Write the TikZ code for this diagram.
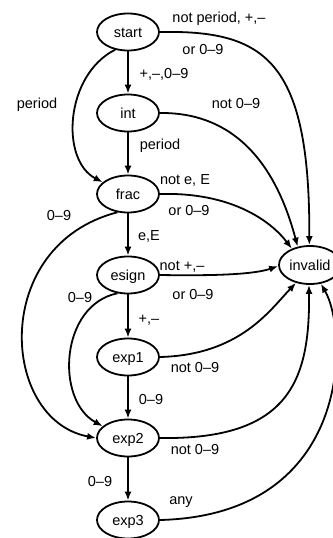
\documentclass[tikz,border=0pt]{standalone}
\usepackage{fontspec}
\setmainfont{Liberation Sans}
\usetikzlibrary{shapes.geometric,arrows.meta}
\begin{document}
\begin{tikzpicture}[x=1pt,y=-1pt,
  state/.style={ellipse, draw, line width=1.8pt, minimum width=62pt, minimum height=37pt,
    inner sep=0pt, text height=10pt, text depth=0pt, font=\fontsize{14.5}{17}\selectfont},
  lbl/.style={inner sep=0pt, text height=10pt, text depth=0pt, font=\fontsize{14.5}{17}\selectfont},
  edge/.style={line width=1.8pt, -{Latex[length=9pt,width=7pt]}}]
\useasboundingbox (0,0) rectangle (332,538);
% states
\node[state] (start) at (128,32) {start};
\node[state] (int) at (128,113) {int};
\node[state] (frac) at (128,194) {frac};
\node[state] (esign) at (128,275) {esign};
\node[state] (exp1) at (128,357) {exp1};
\node[state] (exp2) at (128,438) {exp2};
\node[state] (exp3) at (128,520) {exp3};
\node[state, minimum width=62pt, minimum height=38pt] (invalid) at (310,265) {invalid};
% straight transitions
\draw[edge] (start) -- (int);
\draw[edge] (int) -- (frac);
\draw[edge] (frac) -- (esign);
\draw[edge] (esign) -- (exp1);
\draw[edge] (exp1) -- (exp2);
\draw[edge] (exp2) -- (exp3);
% left curves
\draw[edge] (start.234) .. controls (65,75) and (60,160) .. (frac.155);
\draw[edge] (frac.240) .. controls (-10,245) and (0,420) .. (exp2.west);
\draw[edge] (esign.240) .. controls (60,305) and (55,400) .. (exp2.155);
% to invalid
\draw[edge] (start.east) .. controls (265,30) and (310,60) .. (invalid.92);
\draw[edge] (int.east) .. controls (245,112) and (280,180) .. (invalid.124);
\draw[edge] (frac.east) .. controls (230,192) and (270,220) .. (invalid.138);
\draw[edge] (esign.east) .. controls (220,276) and (255,274) .. (invalid.182);
\draw[edge] (exp1.east) .. controls (240,355) and (270,310) .. (invalid.232);
\draw[edge] (exp2.east) .. controls (290,440) and (310,380) .. (invalid.267);
\draw[edge] (exp3.east) .. controls (355,515) and (348,330) .. (invalid.300);
% labels
\node[lbl] (l1a) at (219,18) {not period, +,–};
\node[lbl] (l1b) at (203,49) {or 0–9};
\node[lbl] (l2) at (164,73) {+,–,0–9};
\node[lbl] (l3) at (37,103) {period};
\node[lbl] (l4) at (236,103) {not 0–9};
\node[lbl] (l5) at (160,144) {period};
\node[lbl] (l6a) at (185,179) {not e, E};
\node[lbl] (l6b) at (189,210) {or 0–9};
\node[lbl] (l7) at (59,215) {0–9};
\node[lbl] (l8) at (149,235) {e,E};
\node[lbl] (l9a) at (182,265) {not +,–};
\node[lbl] (l9b) at (193,294) {or 0–9};
\node[lbl] (l10) at (80,297) {0–9};
\node[lbl] (l11) at (149,318) {+,–};
\node[lbl] (l12) at (195,367) {not 0–9};
\node[lbl] (l13) at (151,399) {0–9};
\node[lbl] (l14) at (195,449) {not 0–9};
\node[lbl] (l15) at (100,481) {0–9};
\node[lbl] (l16) at (181,499) {any};
\end{tikzpicture}
\end{document}
